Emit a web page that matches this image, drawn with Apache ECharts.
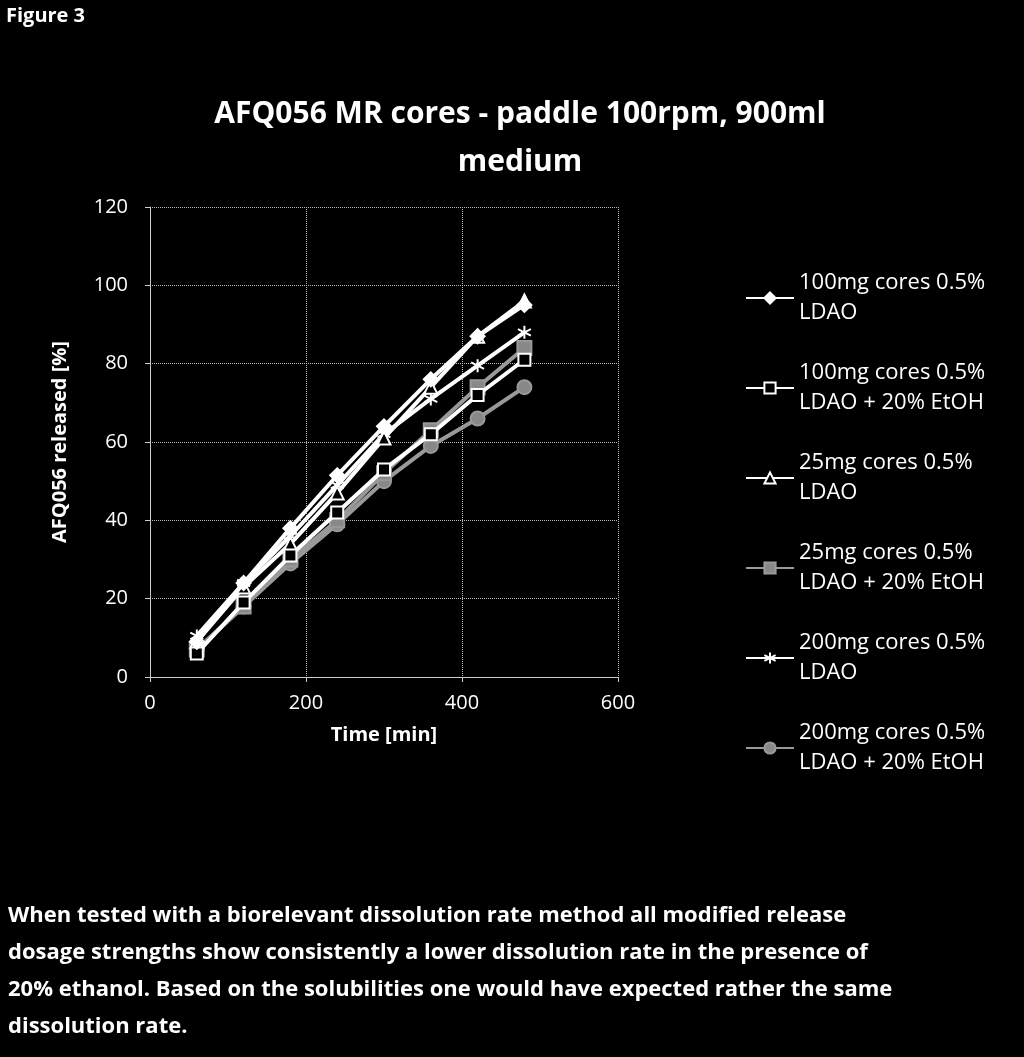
<!DOCTYPE html>
<html><head><meta charset="utf-8">
<script src="https://cdn.jsdelivr.net/npm/echarts@6/dist/echarts.min.js"></script>
<style>html,body{margin:0;background:#000}#c{width:1024px;height:1057px}</style>
</head><body><div id="c"></div>
<script>
const times = [60,120,180,240,300,360,420,480];
const names = ['100mg cores 0.5%\nLDAO','100mg cores 0.5%\nLDAO + 20% EtOH','25mg cores 0.5%\nLDAO','25mg cores 0.5%\nLDAO + 20% EtOH','200mg cores 0.5%\nLDAO','200mg cores 0.5%\nLDAO + 20% EtOH'];
const s100 = [9,24,38,51.5,64,76,87,95];
const s100e = [6,19,31,42,53,62,72,81];
const s25 = [9,23,34,47,61,74,87,96];
const s25e = [7,18,30,40,52,63,74,84];
const s200 = [10.5,24,36,49,62,71,79.5,88];
const s200e = [7,18,29,39,50,59,66,74];
const yTicks = [0,20,40,60,80,100,120];
const xTicks = [0,200,400,600];
const F = '"Open Sans", "Noto Sans", sans-serif';
const star = 'path://M0,-10L0,10M-8.7,-5L8.7,5M-8.7,5L8.7,-5';
const defs = [
 [s100,'diamond','#fff','#fff',14],
 [s100e,'rect','#000','#fff',12],
 [s25,'triangle','#000','#fff',13],
 [s25e,'rect','#888','#999',14],
 [s200,star,'#fff','#fff',13],
 [s200e,'circle','#888','#999',14]
];
const series = defs.map((d,i)=>({
  name:names[i], type:'line', data:d[0].map((v,j)=>[times[j],v]),
  symbol:d[1], symbolSize:d[4], z: 10-i,
  lineStyle:{color:d[3],width:4},
  itemStyle:{color:d[2],borderColor:d[3],borderWidth:2}
}));
const ch = echarts.init(document.getElementById('c'));
ch.setOption({
  backgroundColor:'#000',
  animation:false,
  title:{text:'AFQ056 MR cores - paddle 100rpm, 900ml\nmedium',left:515,textAlign:'center',top:85,
    textStyle:{color:'#fff',fontFamily:F,fontSize:30,fontWeight:'bold',lineHeight:48}},
  graphic:[
    {type:'text',left:6,top:6,style:{text:'Figure 3',fill:'#fff',font:'bold 20px '+F}},
    {type:'text',left:8,top:897,style:{text:'When tested with a biorelevant dissolution rate method all modified release\ndosage strengths show consistently a lower dissolution rate in the presence of\n20% ethanol. Based on the solubilities one would have expected rather the same\ndissolution rate.',fill:'#fff',font:'bold 22px '+F,lineHeight:37}}
  ],
  grid:{left:150,right:406,top:207,bottom:380},
  legend:{orient:'vertical',left:740,top:263,itemGap:30,itemWidth:48,itemHeight:14,
    textStyle:{color:'#fff',fontFamily:F,fontSize:22,lineHeight:30},data:names},
  xAxis:{type:'value',min:0,max:600,interval:200,name:'Time [min]',nameLocation:'middle',nameGap:48,
    nameTextStyle:{color:'#fff',fontFamily:F,fontSize:20,fontWeight:'bold'},
    axisLabel:{color:'#fff',fontFamily:F,fontSize:20,margin:16},
    axisLine:{lineStyle:{color:'#ccc'}},axisTick:{show:true,lineStyle:{color:'#ccc'}},
    splitLine:{show:true,lineStyle:{color:'#bbb',type:'dotted'}}},
  yAxis:{type:'value',min:0,max:120,interval:20,name:'AFQ056 released [%]',nameLocation:'middle',nameGap:80,
    nameTextStyle:{color:'#fff',fontFamily:F,fontSize:20,fontWeight:'bold'},
    axisLabel:{color:'#fff',fontFamily:F,fontSize:20,margin:22},
    axisLine:{show:true,lineStyle:{color:'#ccc'}},axisTick:{show:true,lineStyle:{color:'#ccc'}},
    splitLine:{show:true,lineStyle:{color:'#bbb',type:'dotted'}}},
  series
});
</script></body></html>
